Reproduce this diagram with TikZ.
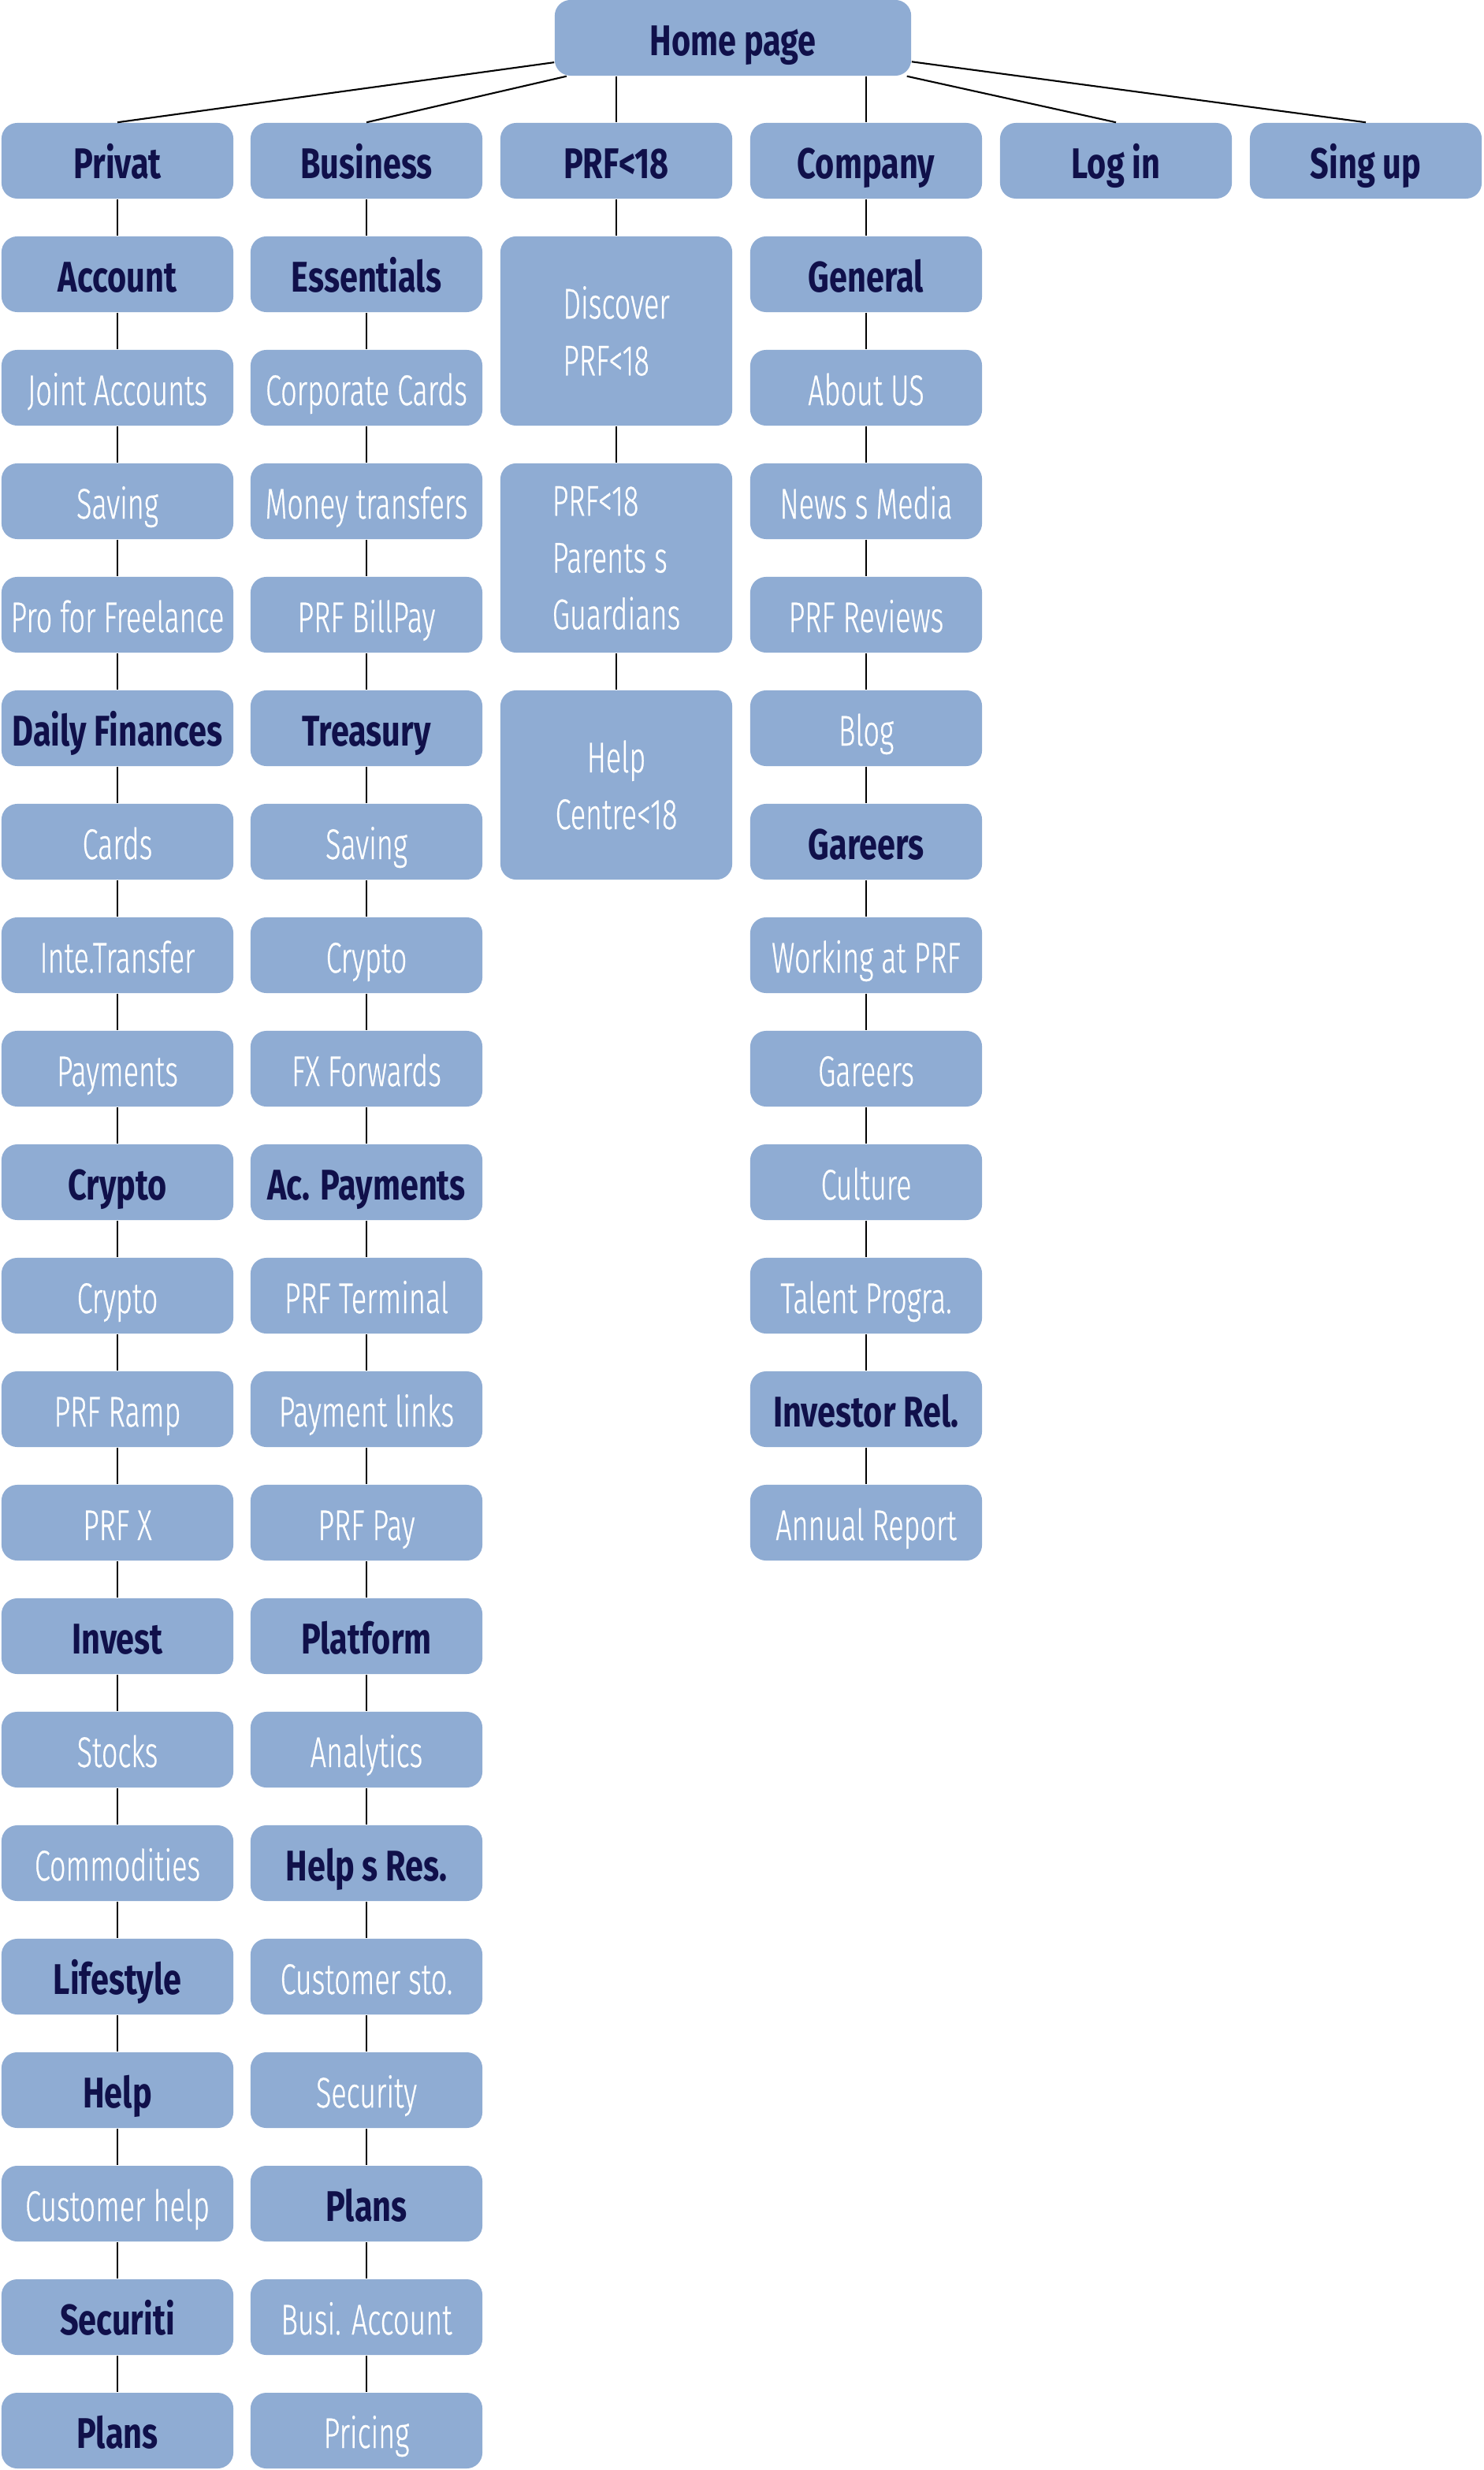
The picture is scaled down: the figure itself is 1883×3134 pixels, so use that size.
\documentclass[tikz,border=0pt]{standalone}
\usepackage{fontspec}
\setmainfont[FakeStretch=0.66]{Fira Sans}
\newfontfamily\pagefont[FakeStretch=0.66, FakeBold=0.5]{Fira Sans Light}
\newfontfamily\headfont[FakeStretch=0.76]{Fira Sans}
\usetikzlibrary{positioning}
\definecolor{boxblue}{RGB}{143,172,211}
\definecolor{navytext}{RGB}{16,16,74}
\tikzset{
  pagebox/.style={rounded corners=2mm, fill=boxblue, minimum width=2.94cm, minimum height=0.96cm, inner sep=0pt, align=center, text height=4.4mm, text depth=0pt, text=white, font=\fontsize{15.5}{20.5}\selectfont\pagefont},
  headbox/.style={pagebox, text=navytext, font=\fontsize{15.5}{20.5}\selectfont\headfont\bfseries},
  tallbox/.style={pagebox, minimum height=2.4cm, text height=, text depth=},
  link/.style={draw=black, line width=0.6pt}
}

\begin{document}
\begin{tikzpicture}[x=0.01cm, y=-0.01cm]
  \useasboundingbox (0,0) rectangle (1883,3134);
  % home and first level
  \node[headbox, minimum width=4.52cm] (home) at (930,48) {Home page};
  \node[headbox] (pv) at (149,204) {Privat};
  \node[headbox] (bs) at (465,204) {Business};
  \node[headbox] (kd) at (782,204) {PRF<18};
  \node[headbox] (co) at (1099,204) {Company};
  \node[headbox] (login) at (1416,204) {Log in};
  \node[headbox] (signup) at (1733,204) {Sing up};

  % privat
  \node[headbox] (pv1) at (149,348) {Account};
  \node[pagebox] (pv2) at (149,492) {Joint Accounts};
  \node[pagebox] (pv3) at (149,636) {Saving};
  \node[pagebox] (pv4) at (149,780) {Pro for Freelance};
  \node[headbox] (pv5) at (149,924) {Daily Finances};
  \node[pagebox] (pv6) at (149,1068) {Cards};
  \node[pagebox] (pv7) at (149,1212) {Inte.Transfer};
  \node[pagebox] (pv8) at (149,1356) {Payments};
  \node[headbox] (pv9) at (149,1500) {Crypto};
  \node[pagebox] (pv10) at (149,1644) {Crypto};
  \node[pagebox] (pv11) at (149,1788) {PRF Ramp};
  \node[pagebox] (pv12) at (149,1932) {PRF X};
  \node[headbox] (pv13) at (149,2076) {Invest};
  \node[pagebox] (pv14) at (149,2220) {Stocks};
  \node[pagebox] (pv15) at (149,2364) {Commodities};
  \node[headbox] (pv16) at (149,2508) {Lifestyle};
  \node[headbox] (pv17) at (149,2652) {Help};
  \node[pagebox] (pv18) at (149,2796) {Customer help};
  \node[headbox] (pv19) at (149,2940) {Securiti};
  \node[headbox] (pv20) at (149,3084) {Plans};

  % business
  \node[headbox] (bs1) at (465,348) {Essentials};
  \node[pagebox] (bs2) at (465,492) {Corporate Cards};
  \node[pagebox] (bs3) at (465,636) {Money transfers};
  \node[pagebox] (bs4) at (465,780) {PRF BillPay};
  \node[headbox] (bs5) at (465,924) {Treasury};
  \node[pagebox] (bs6) at (465,1068) {Saving};
  \node[pagebox] (bs7) at (465,1212) {Crypto};
  \node[pagebox] (bs8) at (465,1356) {FX Forwards};
  \node[headbox] (bs9) at (465,1500) {Ac. Payments};
  \node[pagebox] (bs10) at (465,1644) {PRF Terminal};
  \node[pagebox] (bs11) at (465,1788) {Payment links};
  \node[pagebox] (bs12) at (465,1932) {PRF Pay};
  \node[headbox] (bs13) at (465,2076) {Platform};
  \node[pagebox] (bs14) at (465,2220) {Analytics};
  \node[headbox] (bs15) at (465,2364) {Help s Res.};
  \node[pagebox] (bs16) at (465,2508) {Customer sto.};
  \node[pagebox] (bs17) at (465,2652) {Security};
  \node[headbox] (bs18) at (465,2796) {Plans};
  \node[pagebox] (bs19) at (465,2940) {Busi. Account};
  \node[pagebox] (bs20) at (465,3084) {Pricing};

  % prf<18
  \node[tallbox, align=left] (kd1) at (782,420) {Discover\\PRF<18};
  \node[tallbox, align=left] (kd2) at (782,708) {PRF<18\\Parents s\\Guardians};
  \node[tallbox] (kd3) at (782,996) {Help\\Centre<18};

  % company
  \node[headbox] (co1) at (1099,348) {General};
  \node[pagebox] (co2) at (1099,492) {About US};
  \node[pagebox] (co3) at (1099,636) {News s Media};
  \node[pagebox] (co4) at (1099,780) {PRF Reviews};
  \node[pagebox] (co5) at (1099,924) {Blog};
  \node[headbox] (co6) at (1099,1068) {Gareers};
  \node[pagebox] (co7) at (1099,1212) {Working at PRF};
  \node[pagebox] (co8) at (1099,1356) {Gareers};
  \node[pagebox] (co9) at (1099,1500) {Culture};
  \node[pagebox] (co10) at (1099,1644) {Talent Progra.};
  \node[headbox] (co11) at (1099,1788) {Investor Rel.};
  \node[pagebox] (co12) at (1099,1932) {Annual Report};

  % links
  \draw[link] (home) -- (pv.north);
  \draw[link] (home) -- (bs.north);
  \draw[link] (home.south -| kd.north) -- (kd.north);
  \draw[link] (home.south -| co.north) -- (co.north);
  \draw[link] (home) -- (login.north);
  \draw[link] (home) -- (signup.north);
  \draw[link] (pv) -- (pv1) -- (pv2) -- (pv3) -- (pv4) -- (pv5) -- (pv6) -- (pv7) -- (pv8) -- (pv9) -- (pv10)
    -- (pv11) -- (pv12) -- (pv13) -- (pv14) -- (pv15) -- (pv16) -- (pv17) -- (pv18) -- (pv19) -- (pv20);
  \draw[link] (bs) -- (bs1) -- (bs2) -- (bs3) -- (bs4) -- (bs5) -- (bs6) -- (bs7) -- (bs8) -- (bs9) -- (bs10)
    -- (bs11) -- (bs12) -- (bs13) -- (bs14) -- (bs15) -- (bs16) -- (bs17) -- (bs18) -- (bs19) -- (bs20);
  \draw[link] (kd) -- (kd1) -- (kd2) -- (kd3);
  \draw[link] (co) -- (co1) -- (co2) -- (co3) -- (co4) -- (co5) -- (co6) -- (co7) -- (co8) -- (co9) -- (co10)
    -- (co11) -- (co12);
\end{tikzpicture}
\end{document}
